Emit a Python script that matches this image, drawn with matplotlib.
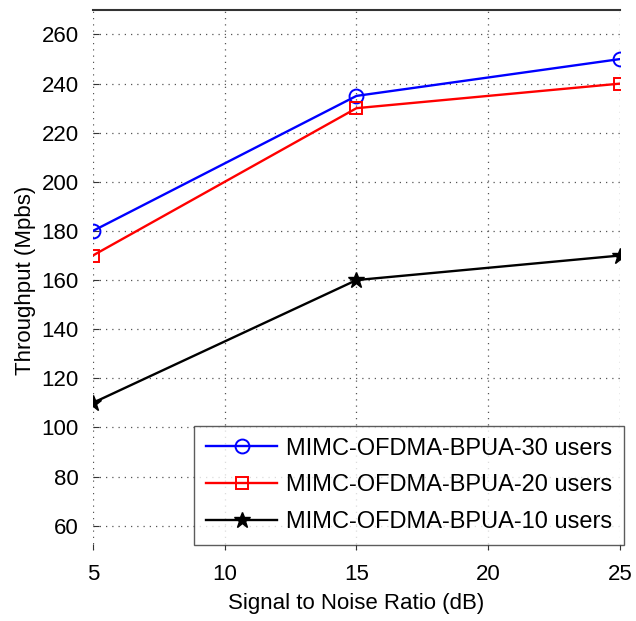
import numpy as np
import matplotlib.pyplot as plt

plt.rcParams['font.family'] = ['Liberation Sans', 'DejaVu Sans']

snr = [5, 15, 25]
users30 = [180, 235, 250]
users20 = [170, 230, 240]
users10 = [110, 160, 170]
labels = ['MIMC-OFDMA-BPUA-30 users', 'MIMC-OFDMA-BPUA-20 users', 'MIMC-OFDMA-BPUA-10 users']
xticks = [5, 10, 15, 20, 25]
yticks = list(range(60, 280, 20))

fig = plt.figure(figsize=(6.36, 6.21), dpi=100)
ax = fig.add_axes([0.146, 0.114, 0.829, 0.87])

ax.plot(snr, users30, '-o', color='blue', lw=1.7, ms=10, mfc='none', mew=1.4, label=labels[0])
ax.plot(snr, users20, '-s', color='red', lw=1.7, ms=9, mfc='none', mew=1.4, label=labels[1])
ax.plot(snr, users10, '-*', color='black', lw=1.7, ms=12, label=labels[2])

ax.set_xlim(5, 25)
ax.set_ylim(50, 270)
ax.set_xticks(xticks)
ax.set_yticks(yticks)
ax.tick_params(direction='in', labelsize=16, pad=10, length=4, color='#333333')
ax.grid(True, linestyle=(0, (1, 4)), color='#555555', lw=0.9)

for side in ['left', 'right', 'bottom']:
    ax.spines[side].set_visible(False)
ax.spines['top'].set_color('#333333')
ax.spines['top'].set_linewidth(1.5)

ax.set_xlabel('Signal to Noise Ratio (dB)', fontsize=16, labelpad=6)
ax.set_ylabel('Throughput (Mpbs)', fontsize=16, labelpad=4)

leg = ax.legend(loc='lower right', bbox_to_anchor=(1.008, 0.01), fontsize=17,
                frameon=True, fancybox=False, borderaxespad=0, handlelength=3.0,
                borderpad=0.5, labelspacing=0.62, handletextpad=0.4)
leg.get_frame().set_edgecolor('#333333')
leg.get_frame().set_linewidth(1.0)

fig.savefig('out.png', dpi=100)
